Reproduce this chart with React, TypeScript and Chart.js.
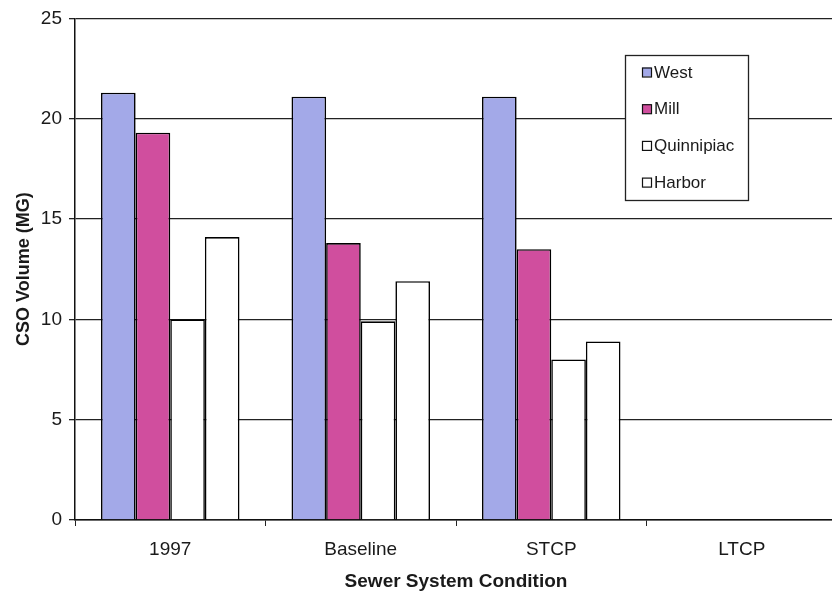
import React, { useEffect, useRef } from "react";
import { Chart, registerables } from "chart.js";

Chart.register(...registerables);

const categories = ["1997", "Baseline", "STCP", "LTCP"];
const seriesNames = ["West", "Mill", "Quinnipiac", "Harbor"];
const westValues = [21.3, 21.1, 21.1, null];
const millValues = [19.3, 13.8, 13.5, null];
const quinnipiacValues = [10.0, 9.9, 8.0, null];
const harborValues = [14.1, 11.9, 8.9, null];
const seriesColors = ["#a3a9e8", "#d04e9e", "#ffffff", "#ffffff"];
const yTicks = [0, 5, 10, 15, 20, 25];

const FONT = "'Liberation Sans', Arial, Helvetica, sans-serif";

const legendBoxPlugin = {
  id: "legendBox",
  afterDraw(chart: any) {
    const ctx = chart.ctx;
    const x0 = 625, y0 = 55, w = 123, h = 145;
    ctx.save();
    ctx.fillStyle = "#ffffff";
    ctx.fillRect(x0, y0, w, h);
    ctx.strokeStyle = "#222";
    ctx.lineWidth = 1.3;
    ctx.strokeRect(x0 + 0.5, y0 + 0.5, w, h);
    ctx.font = `17px ${FONT}`;
    ctx.textBaseline = "middle";
    ctx.textAlign = "left";
    chart.data.datasets.forEach((ds: any, i: number) => {
      const cy = 72 + i * 36.7;
      ctx.fillStyle = ds.backgroundColor;
      ctx.fillRect(642, cy - 4.5, 9, 9);
      ctx.strokeStyle = "#111";
      ctx.lineWidth = 1.2;
      ctx.strokeRect(642.5, cy - 4, 9, 9);
      ctx.fillStyle = "#1a1a1a";
      ctx.fillText(ds.label, 654, cy + 1);
    });
    ctx.restore();
  },
};

export default function App() {
  const ref = useRef<HTMLCanvasElement | null>(null);
  useEffect(() => {
    if (!ref.current) return;
    const allValues = [westValues, millValues, quinnipiacValues, harborValues];
    const chart = new Chart(ref.current, {
      type: "bar",
      data: {
        labels: categories,
        datasets: seriesNames.map((name, i) => ({
          label: name,
          data: allValues[i] as any,
          backgroundColor: seriesColors[i],
          borderColor: "#000",
          borderWidth: 1.6,
          categoryPercentage: 0.727,
          barPercentage: 1,
        })),
      },
      options: {
        responsive: false,
        animation: false,
        devicePixelRatio: 1,
        layout: { padding: { left: 0, right: 3, top: 18, bottom: 0 } },
        plugins: {
          legend: { display: false },
          tooltip: { enabled: false },
        },
        scales: {
          x: {
            afterFit: (s: any) => { s.height = 73; },
            grid: {
              display: true,
              drawOnChartArea: false,
              drawTicks: true,
              tickLength: 6,
              color: "#222",
              offset: true,
            },
            border: { display: true, color: "#111", width: 1.5 },
            ticks: {
              color: "#1a1a1a",
              padding: 12,
              font: { family: FONT, size: 19 },
            },
            title: {
              display: true,
              text: "Sewer System Condition",
              color: "#1a1a1a",
              padding: { top: 0, bottom: 0 },
              font: { family: FONT, size: 19, weight: "bold" },
            },
          },
          y: {
            min: 0,
            max: 25,
            afterFit: (s: any) => { s.width = 75; },
            afterBuildTicks: (s: any) => { s.ticks = yTicks.map((v) => ({ value: v })); },
            grid: {
              color: "#222",
              lineWidth: 1.3,
              drawTicks: true,
              tickLength: 6,
            },
            border: { display: true, color: "#111", width: 1.5 },
            ticks: {
              color: "#1a1a1a",
              padding: 7,
              font: { family: FONT, size: 19 },
            },
            title: {
              display: true,
              text: "CSO Volume (MG)",
              color: "#1a1a1a",
              padding: { top: 13, bottom: 0 },
              font: { family: FONT, size: 18, weight: "bold" },
            },
          },
        },
      },
      plugins: [legendBoxPlugin],
    });
    return () => chart.destroy();
  }, []);
  return (
    <div
      style={{
        position: "absolute",
        left: 0,
        top: 0,
        width: 832,
        height: 593,
        overflow: "hidden",
        background: "#fff",
      }}
    >
      <canvas ref={ref} width={840} height={593} style={{ display: "block" }} />
    </div>
  );
}
